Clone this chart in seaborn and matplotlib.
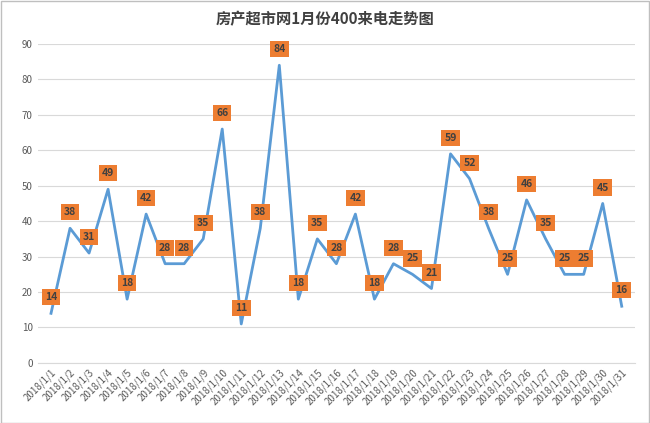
import matplotlib
matplotlib.use("Agg")
import matplotlib.pyplot as plt
import seaborn as sns
import pandas as pd

# 数据
days = [f"2018/1/{d}" for d in range(1, 32)]
calls = [14, 38, 31, 49, 18, 42, 28, 28, 35, 66, 11, 38, 84, 18, 35, 28,
         42, 18, 28, 25, 21, 59, 52, 38, 25, 46, 35, 25, 25, 45, 16]
title = "房产超市网1月份400来电走势图"

plt.rcParams["font.family"] = ["Noto Sans CJK SC", "DejaVu Sans"]
df = pd.DataFrame({"idx": range(len(days)), "calls": calls})

fig = plt.figure(figsize=(6.5, 4.23), dpi=100)
ax = fig.add_axes([0.058, 0.142, 0.919, 0.754])
sns.lineplot(data=df, x="idx", y="calls", ax=ax, color="#5B9BD5", linewidth=2)

for i, v in zip(df["idx"], df["calls"]):
    ax.text(i, v + 4.5, str(v), ha="center", va="center", fontsize=7.5,
            fontweight="bold", color="#404040",
            bbox=dict(boxstyle="square,pad=0.3", fc="#ED7D31", ec="none"))

ax.set_ylim(0, 90)
ax.set_yticks(range(0, 91, 10))
ax.set_xlim(-0.7, len(days) - 0.3)
ax.set_xticks(df["idx"])
ax.set_xticklabels(days, rotation=45, ha="right", rotation_mode="anchor", fontsize=7, color="#595959")
ax.tick_params(axis="y", labelsize=7, colors="#595959", length=0)
ax.tick_params(axis="x", length=0, pad=3)
ax.grid(axis="y", color="#D9D9D9", linewidth=0.8)
ax.set_axisbelow(True)
for s in ["top", "right", "left"]:
    ax.spines[s].set_visible(False)
ax.spines["bottom"].set_color("#D9D9D9")
ax.set_xlabel("")
ax.set_ylabel("")

fig.text(0.5, 0.955, title, ha="center", va="center", fontsize=11, fontweight="bold", color="#404040")
fig.patches.append(plt.Rectangle((0.001, 0.001), 0.997, 0.997, transform=fig.transFigure,
                                 fill=False, ec="#BFBFBF", lw=1))
fig.savefig("out.png", dpi=100)
